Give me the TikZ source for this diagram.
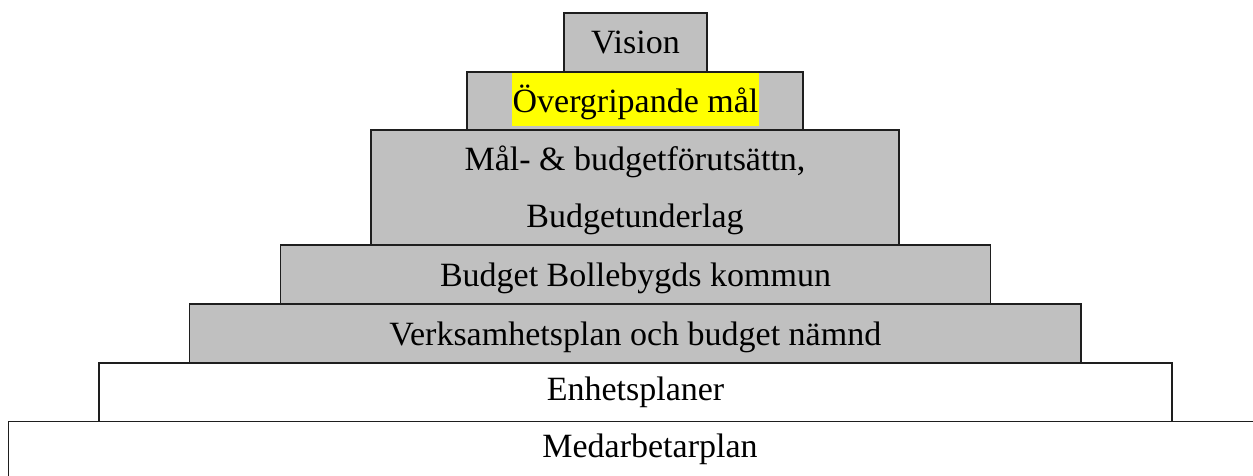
\documentclass[tikz,border=0pt]{standalone}
\usepackage{fontspec}
\setmainfont{Liberation Serif}
\definecolor{boxgray}{HTML}{C0C0C0}
\definecolor{edge}{HTML}{1E1E1E}
\definecolor{hl}{HTML}{FFFF00}
\begin{document}
\begin{tikzpicture}[x=1pt,y=-1pt,
  tier/.style={draw=edge, line width=1.4pt, rectangle, inner sep=0pt},
  grey/.style={tier, fill=boxgray},
  white/.style={tier, fill=white},
  lbl/.style={anchor=base, inner sep=0pt, font=\fontsize{34}{57}\selectfont, text=black}
]
\useasboundingbox (0,0) rectangle (1253,475);
\clip (0,0) rectangle (1253,475);
% tiers
\node[white, minimum width=1261.5pt, minimum height=58.5pt] (medarb) at (639.25,450.75) {};
\node[white, minimum width=1073pt, minimum height=58.5pt] (enhet) at (635.5,392.25) {};
\node[grey, minimum width=891.5pt, minimum height=59pt] (verks) at (635.25,333.5) {};
\node[grey, minimum width=710pt, minimum height=59pt] (budget) at (635.5,274.5) {};
\node[grey, minimum width=528pt, minimum height=115pt] (mal) at (635,187.5) {};
\node[grey, minimum width=336pt, minimum height=58pt] (overg) at (635,101) {};
\node[grey, minimum width=143pt, minimum height=59pt] (vision) at (635.5,42.5) {};
% labels
\node[lbl] (tvision) at (635.5,53) {Vision};
\node[lbl, fill=hl, inner xsep=1pt, text height=39pt, text depth=14pt] (tovg) at (635.5,112) {Övergripande mål};
\node[lbl] (tmal1) at (635,170) {Mål- \& budgetförutsättn,};
\node[lbl] (tmal2) at (635,227) {Budgetunderlag};
\node[lbl] (tbudget) at (635.5,286) {Budget Bollebygds kommun};
\node[lbl] (tverks) at (635.25,345) {Verksamhetsplan och budget nämnd};
\node[lbl] (tenhet) at (635.5,400) {Enhetsplaner};
\node[lbl] (tmedarb) at (650,457) {Medarbetarplan};
\end{tikzpicture}
\end{document}
